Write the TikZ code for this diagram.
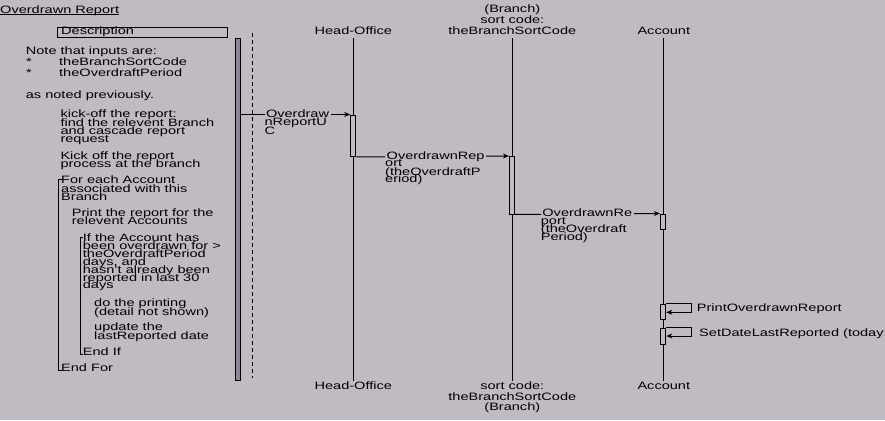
\documentclass[tikz,border=0pt]{standalone}
\usepackage{fontspec}
\setmainfont[FakeStretch=1.36]{Liberation Sans}
\usetikzlibrary{arrows.meta}
\definecolor{bg}{HTML}{C0BAC2}
\definecolor{barfill}{HTML}{8C8794}
\tikzset{
  txt/.style={anchor=base west,inner sep=0pt,font=\fontsize{10.7}{8.3}\selectfont},
  ctxt/.style={anchor=base,inner sep=0pt,font=\fontsize{10.7}{8.3}\selectfont},
  lbl/.style={txt,fill=bg,inner xsep=1.5pt},
  act/.style={draw,fill=bg,line width=1pt,minimum width=5.2pt,inner sep=0pt},
  life/.style={line width=1pt},
  msg/.style={line width=1pt,-{Stealth[length=6pt,width=5pt]}},
  brk/.style={line width=1pt}
}
\begin{document}
\begin{tikzpicture}[x=1pt,y=-1pt]
\fill[bg] (0,0) rectangle (885,420);
\useasboundingbox (0,0) rectangle (885,420);

% title
\node[txt] (title) at (0,13.3) {Overdrawn Report};
\draw[line width=0.9pt] ([yshift=-1.4pt]title.base west) -- ([yshift=-1.4pt]title.base east);

% description box
\node[draw,line width=1pt,minimum width=170.4pt,minimum height=9.6pt,inner sep=0pt] (desc) at (142.5,32.5) {};
\node[txt] (desct) at (61,35) {Description};

% thick bar and dashed line
\node[draw,fill=barfill,line width=1pt,minimum width=5.4pt,minimum height=341.7pt,inner sep=0pt] (ui) at (238,209.2) {};
\coordinate (d1) at (252.3,33.3);
\coordinate (d2) at (252.3,378);
\draw[line width=1pt,dash pattern=on 4pt off 3pt] (d1) -- (d2);

% left description text
\node[txt] (n1) at (25.7,55) {Note that inputs are:};
\node[txt] (s1) at (26,65) {*};
\node[txt] (n2) at (59,65) {theBranchSortCode};
\node[txt] (s2) at (26,76) {*};
\node[txt] (n3) at (59,76) {theOverdraftPeriod};
\node[txt] (n4) at (25.7,98) {as noted previously.};
\node[txt] (k1) at (60.3,117.3) {kick-off the report:};
\node[txt] (k2) at (60.3,126) {find the relevent Branch};
\node[txt] (k3) at (60.3,134.2) {and cascade report};
\node[txt] (k4) at (60.3,142.4) {request};
\node[txt] (p1) at (60.3,159) {Kick off the report};
\node[txt] (p2) at (60.3,167.2) {process at the branch};
\node[txt] (f1) at (61,183.3) {For each Account};
\node[txt] (f2) at (61,192) {associated with this};
\node[txt] (f3) at (61,200.2) {Branch};
\node[txt] (r1) at (71.7,216) {Print the report for the};
\node[txt] (r2) at (71.7,224.3) {relevent Accounts};
\node[txt] (i1) at (82.7,241) {If the Account has};
\node[txt] (i2) at (82.7,249.3) {been overdrawn for >};
\node[txt] (i3) at (82.7,257.4) {theOverdraftPeriod};
\node[txt] (i4) at (82.7,265.3) {days, and};
\node[txt] (i5) at (82.7,273.5) {hasn't already been};
\node[txt] (i6) at (82.7,281.7) {reported in last 30};
\node[txt] (i7) at (82.7,288.7) {days};
\node[txt] (dp1) at (94,306) {do the printing};
\node[txt] (dp2) at (94,315) {(detail not shown)};
\node[txt] (u1) at (94,330.7) {update the};
\node[txt] (u2) at (94,339) {lastReported date};
\node[txt] (ei) at (82.7,355.7) {End If};
\node[txt] (ef) at (61,371.7) {End For};

% brackets
\coordinate (fa) at (61.5,179);
\coordinate (fb) at (58.3,179);
\coordinate (fc) at (58.3,370.7);
\coordinate (fd) at (61.5,370.7);
\draw[brk] (fa) -- (fb) -- (fc) -- (fd);
\coordinate (ia) at (83,237.7);
\coordinate (ib) at (80,237.7);
\coordinate (ic) at (80,354);
\coordinate (id) at (83,354);
\draw[brk] (ia) -- (ib) -- (ic) -- (id);

% lifeline headers
\node[ctxt] (ho) at (353.3,35) {Head-Office};
\node[ctxt] (br0) at (512.3,12.3) {(Branch)};
\node[ctxt] (br1) at (512.3,24) {sort code:};
\node[ctxt] (br) at (512.3,35) {theBranchSortCode};
\node[ctxt] (ac) at (663.8,35) {Account};
\node[ctxt] (hob) at (353.3,389) {Head-Office};
\node[ctxt] (brb1) at (512.3,389) {sort code:};
\node[ctxt] (brb) at (512.3,400) {theBranchSortCode};
\node[ctxt] (brb2) at (512.3,410.7) {(Branch)};
\node[ctxt] (acb) at (663.8,389) {Account};

% lifelines
\coordinate (hot) at (353.3,38.3);
\coordinate (hoe) at (353.3,380.7);
\coordinate (brt) at (512.3,38.3);
\coordinate (bre) at (512.3,380.7);
\coordinate (act) at (663.3,38.3);
\coordinate (ace) at (663.3,380.7);
\draw[life] (hot) -- (hoe);
\draw[life] (brt) -- (bre);
\draw[life] (act) -- (ace);

% activations
\node[act,minimum height=41.5pt] (hoA) at (353.3,135.75) {};
\node[act,minimum height=57.5pt] (brA) at (512,185.25) {};
\node[act,minimum height=15.3pt] (acA) at (663,221.65) {};
\node[act,minimum height=15pt] (acB) at (663.2,311.8) {};
\node[act,minimum height=16pt] (acC) at (663.2,336.3) {};

% messages
\draw[msg] (ui.east |- hoA.north) -- (hoA.north west);
\node[lbl] (m1a) at (264.3,117.3) {Overdraw};
\node[txt] (m1b) at (264.3,125.7) {nReportU};
\node[txt] (m1c) at (264.3,134) {C};

\draw[msg] (hoA.south east) -- (brA.north west);
\node[lbl] (m2a) at (385,159) {OverdrawnRep};
\node[txt] (m2b) at (385,166.8) {ort};
\node[txt] (m2c) at (385,175) {(theOverdraftP};
\node[txt] (m2d) at (385,182.8) {eriod)};

\draw[msg] (brA.south east) -- (acA.north west);
\node[lbl] (m3a) at (540.7,216.7) {OverdrawnRe};
\node[txt] (m3b) at (540.7,224.5) {port};
\node[txt] (m3c) at (540.7,232) {(theOverdraft};
\node[txt] (m3d) at (540.7,240.3) {Period)};

% self calls
\coordinate (l1) at (691.7,312.3);
\draw[msg] (acB.north east) -| (l1) -- (acB.east |- l1);
\node[txt] (s1t) at (696.7,311.7) {PrintOverdrawnReport};
\coordinate (l2) at (691.7,336);
\draw[msg] (acC.north east) -| (l2) -- (acC.east |- l2);
\node[txt] (s2t) at (699,336.7) {SetDateLastReported (today:};
\end{tikzpicture}
\end{document}
